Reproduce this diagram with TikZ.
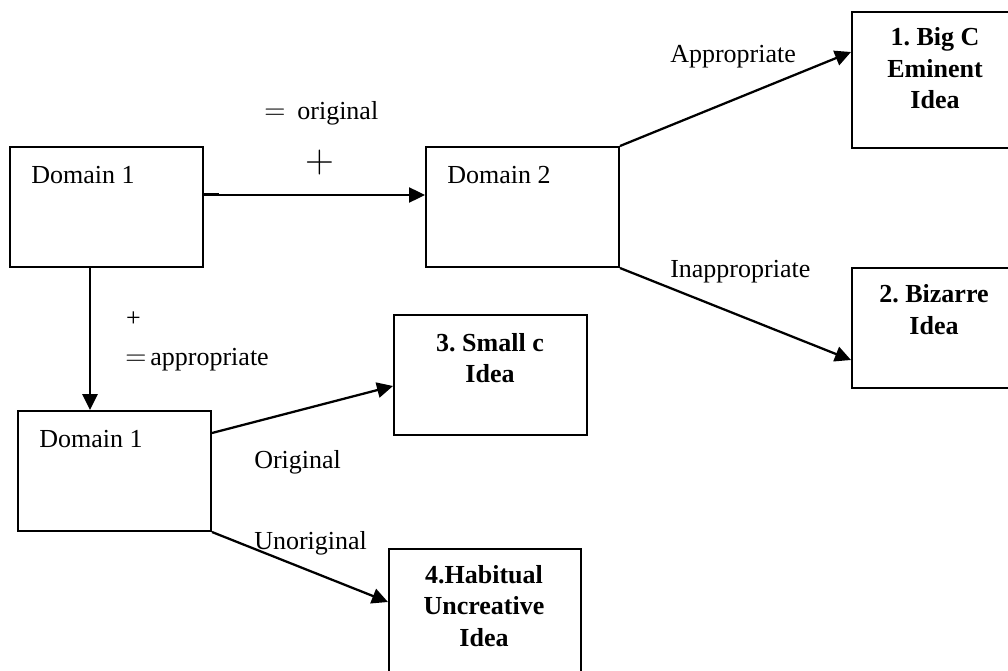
\documentclass[tikz,border=0pt]{standalone}
\usepackage{fix-cm}
\usepackage{fontspec}
\setmainfont{Liberation Serif}
\usetikzlibrary{arrows.meta,calc}
\frenchspacing
\tikzset{
  box/.style={draw, line width=1.5pt, rectangle, inner sep=0pt},
  txt/.style={inner sep=0pt, font=\fontsize{19.5}{23.6}\selectfont},
  idea/.style={inner sep=0pt, align=center, font=\fontsize{19.5}{23.6}\selectfont\bfseries},
  conn/.style={line width=1.7pt, -{Triangle[length=12pt,width=11.5pt]}},
  thinconn/.style={line width=0.9pt, -{Triangle[length=12pt,width=11.5pt]}},
}
\begin{document}
\frenchspacing
\begin{tikzpicture}[x=0.75pt,y=-0.75pt]
\clip (0,0) rectangle (1008,671);
\fill[white] (0,0) rectangle (1008,671);
% boxes
\node[box, minimum width=193*0.75pt, minimum height=120*0.75pt] (d1) at (106.5,207) {};
\node[box, minimum width=193*0.75pt, minimum height=120*0.75pt] (d2) at (522.5,207) {};
\node[box, minimum width=180*0.75pt, minimum height=136*0.75pt, anchor=north west] (b1) at (851,11) {};
\node[box, minimum width=180*0.75pt, minimum height=120*0.75pt, anchor=north west] (b2) at (851,267) {};
\node[box, minimum width=193*0.75pt, minimum height=120*0.75pt] (b3) at (490.5,375) {};
\node[box, minimum width=192*0.75pt, minimum height=140*0.75pt, anchor=north west] (b4) at (388,548) {};
\node[box, minimum width=193*0.75pt, minimum height=120*0.75pt] (d1b) at (114.5,471) {};
% texts in boxes
\node[txt, anchor=base west] (t1) at (31,183) {Domain 1};
\node[txt, anchor=base west] (t2) at (447,183) {Domain 2};
\node[txt, anchor=base west] (t3) at (39,447) {Domain 1};
\node[idea, anchor=north] (i1) at (935,27.5) {1. Big C\\Eminent\\Idea};
\node[idea, anchor=north] (i2) at (934,284.5) {2. Bizarre\\Idea};
\node[idea, anchor=north] (i3) at (490,333) {3. Small c\\Idea};
\node[idea, anchor=north] (i4) at (484,565) {4.Habitual\\Uncreative\\Idea};
% labels
\node[txt, anchor=base west] (lorig) at (264,119) {{\fontsize{22}{22}\selectfont$=$}\kern9pt original};
\node[inner sep=0pt, font=\fontsize{30}{30}\selectfont] (lplus) at (319.5,163) {$+$};
\node[txt] (lplus2) at (133.5,319) {+};
\node[txt, anchor=base west] (lappr) at (125,365) {{\fontsize{22}{22}\selectfont$=$}\kern3pt appropriate};
\node[txt, anchor=base west] (la) at (670,62) {Appropriate};
\node[txt, anchor=base west] (lin) at (670,277) {Inappropriate};
\node[txt, anchor=base west] (lo) at (254,468) {Original};
\node[txt, anchor=base west] (lu) at (254,549) {Unoriginal};
% connectors
\draw[thinconn] ($(d1.east)+(0,-12)$) -- ($(d2.west)+(0,-12)$);
\draw[line width=1.6pt] ($(d1.east)+(0,-13)$) -- ++(15,0);
\draw[conn] ($(d1.south west)+(81,0)$) -- ($(d1b.north west)+(73,0)$);
\draw[conn] (d2.north east) -- ($(b1.north west)+(0,41)$);
\draw[conn] (d2.south east) -- ($(b2.north west)+(0,93)$);
\draw[conn] ($(d1b.north east)+(0,23)$) -- ($(b3.north west)+(0,72)$);
\draw[conn] (d1b.south east) -- ($(b4.north west)+(0,54)$);
\end{tikzpicture}
\end{document}
